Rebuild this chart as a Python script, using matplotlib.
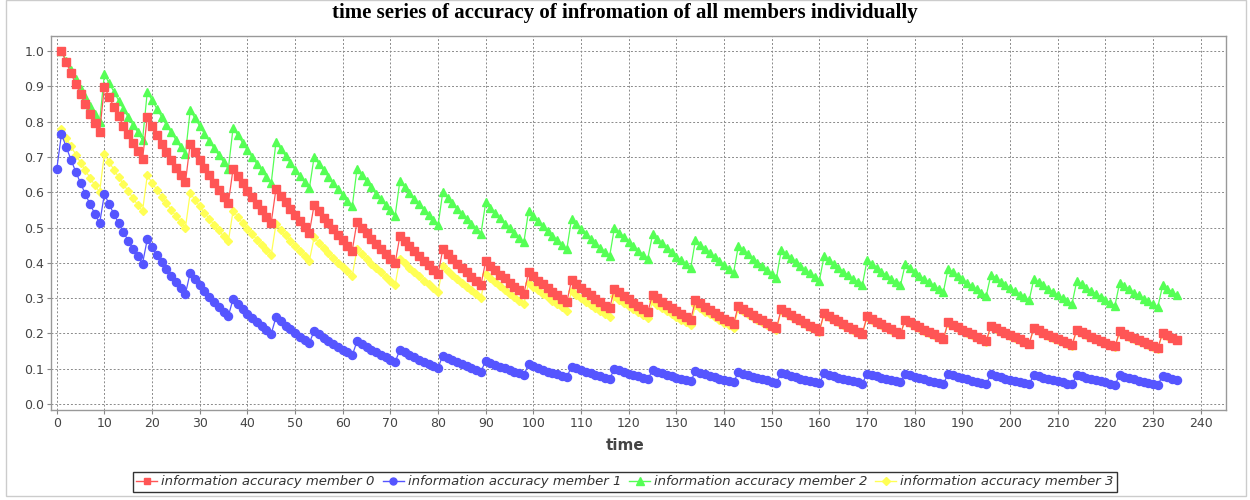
import matplotlib
matplotlib.use("Agg")
import matplotlib.pyplot as plt
from matplotlib.lines import Line2D
from matplotlib.patches import Rectangle

# accuracy per time step, grouped by the decay segment between two updates
member0 = [
    [1.000, 0.968, 0.937, 0.907, 0.878, 0.850, 0.823, 0.796, 0.771],
    [0.899, 0.870, 0.842, 0.815, 0.789, 0.764, 0.740, 0.716, 0.693],
    [0.814, 0.788, 0.763, 0.738, 0.715, 0.692, 0.670, 0.648, 0.628],
    [0.738, 0.714, 0.692, 0.669, 0.648, 0.627, 0.607, 0.587, 0.569],
    [0.667, 0.646, 0.625, 0.605, 0.586, 0.567, 0.549, 0.531, 0.514],
    [0.610, 0.590, 0.572, 0.553, 0.536, 0.519, 0.502, 0.486],
    [0.564, 0.546, 0.528, 0.512, 0.495, 0.479, 0.464, 0.449, 0.435],
    [0.517, 0.500, 0.484, 0.469, 0.454, 0.439, 0.425, 0.412, 0.399],
    [0.477, 0.462, 0.447, 0.433, 0.419, 0.405, 0.393, 0.380, 0.368],
    [0.439, 0.425, 0.411, 0.398, 0.385, 0.373, 0.361, 0.349, 0.338],
    [0.405, 0.392, 0.379, 0.367, 0.356, 0.344, 0.333, 0.322, 0.312],
    [0.374, 0.362, 0.350, 0.339, 0.328, 0.318, 0.308, 0.298, 0.288],
    [0.351, 0.340, 0.329, 0.318, 0.308, 0.298, 0.289, 0.279, 0.271],
    [0.327, 0.317, 0.306, 0.297, 0.287, 0.278, 0.269, 0.260],
    [0.310, 0.300, 0.290, 0.281, 0.272, 0.264, 0.255, 0.247, 0.239],
    [0.294, 0.285, 0.275, 0.267, 0.258, 0.250, 0.242, 0.234, 0.227],
    [0.279, 0.270, 0.261, 0.253, 0.245, 0.237, 0.230, 0.222, 0.215],
    [0.270, 0.261, 0.253, 0.245, 0.237, 0.230, 0.222, 0.215, 0.208],
    [0.258, 0.250, 0.242, 0.234, 0.227, 0.219, 0.212, 0.205, 0.199],
    [0.249, 0.241, 0.233, 0.226, 0.219, 0.212, 0.205, 0.198],
    [0.239, 0.231, 0.224, 0.217, 0.210, 0.203, 0.197, 0.190, 0.184],
    [0.232, 0.225, 0.217, 0.210, 0.204, 0.197, 0.191, 0.185, 0.179],
    [0.222, 0.215, 0.208, 0.201, 0.195, 0.189, 0.183, 0.177, 0.171],
    [0.216, 0.209, 0.202, 0.196, 0.190, 0.184, 0.178, 0.172, 0.167],
    [0.211, 0.204, 0.198, 0.191, 0.185, 0.179, 0.174, 0.168, 0.163],
    [0.206, 0.199, 0.193, 0.187, 0.181, 0.175, 0.170, 0.164, 0.159],
    [0.201, 0.195, 0.188, 0.182],
]

member1 = [
    [0.665],
    [0.765, 0.728, 0.692, 0.658, 0.626, 0.595, 0.566, 0.539, 0.512],
    [0.595, 0.566, 0.538, 0.512, 0.487, 0.463, 0.440, 0.419, 0.398],
    [0.467, 0.444, 0.422, 0.402, 0.382, 0.363, 0.346, 0.329, 0.312],
    [0.372, 0.354, 0.336, 0.320, 0.304, 0.289, 0.275, 0.262, 0.249],
    [0.298, 0.283, 0.269, 0.256, 0.244, 0.232, 0.221, 0.210, 0.199],
    [0.246, 0.234, 0.222, 0.212, 0.201, 0.191, 0.182, 0.173],
    [0.207, 0.197, 0.187, 0.178, 0.169, 0.161, 0.153, 0.146, 0.138],
    [0.178, 0.169, 0.161, 0.153, 0.146, 0.138, 0.132, 0.125, 0.119],
    [0.154, 0.146, 0.139, 0.132, 0.126, 0.120, 0.114, 0.108, 0.103],
    [0.137, 0.130, 0.124, 0.118, 0.112, 0.107, 0.101, 0.096, 0.092],
    [0.123, 0.117, 0.111, 0.106, 0.101, 0.096, 0.091, 0.087, 0.082],
    [0.113, 0.107, 0.102, 0.097, 0.092, 0.088, 0.084, 0.080, 0.076],
    [0.106, 0.101, 0.096, 0.091, 0.087, 0.082, 0.078, 0.075, 0.071],
    [0.100, 0.095, 0.090, 0.086, 0.082, 0.078, 0.074, 0.070],
    [0.096, 0.091, 0.087, 0.083, 0.079, 0.075, 0.071, 0.068, 0.064],
    [0.093, 0.088, 0.084, 0.080, 0.076, 0.072, 0.069, 0.065, 0.062],
    [0.090, 0.086, 0.081, 0.077, 0.074, 0.070, 0.067, 0.063, 0.060],
    [0.088, 0.084, 0.080, 0.076, 0.072, 0.068, 0.065, 0.062, 0.059],
    [0.087, 0.083, 0.079, 0.075, 0.071, 0.068, 0.064, 0.061, 0.058],
    [0.086, 0.082, 0.078, 0.074, 0.070, 0.067, 0.064, 0.061],
    [0.085, 0.081, 0.077, 0.073, 0.070, 0.066, 0.063, 0.060, 0.057],
    [0.085, 0.081, 0.077, 0.073, 0.070, 0.066, 0.063, 0.060, 0.057],
    [0.084, 0.080, 0.076, 0.072, 0.069, 0.065, 0.062, 0.059, 0.056],
    [0.083, 0.079, 0.075, 0.071, 0.068, 0.065, 0.061, 0.058, 0.056],
    [0.082, 0.078, 0.074, 0.071, 0.067, 0.064, 0.061, 0.058, 0.055],
    [0.081, 0.077, 0.073, 0.070, 0.066, 0.063, 0.060, 0.057, 0.054],
    [0.080, 0.076, 0.072, 0.069],
]

member2 = [
    [1.000, 0.973, 0.946, 0.920, 0.894, 0.870, 0.846, 0.823, 0.800],
    [0.935, 0.909, 0.885, 0.860, 0.836, 0.813, 0.791, 0.770, 0.748],
    [0.885, 0.861, 0.837, 0.814, 0.791, 0.770, 0.749, 0.728, 0.708],
    [0.833, 0.810, 0.788, 0.766, 0.745, 0.725, 0.705, 0.686, 0.666],
    [0.783, 0.761, 0.741, 0.720, 0.700, 0.681, 0.662, 0.644, 0.626],
    [0.743, 0.723, 0.703, 0.684, 0.664, 0.646, 0.629, 0.611],
    [0.700, 0.681, 0.662, 0.644, 0.626, 0.609, 0.592, 0.576, 0.560],
    [0.667, 0.649, 0.631, 0.614, 0.596, 0.580, 0.564, 0.549, 0.534],
    [0.633, 0.616, 0.599, 0.582, 0.566, 0.551, 0.536, 0.521, 0.506],
    [0.602, 0.585, 0.569, 0.554, 0.538, 0.524, 0.509, 0.495, 0.482],
    [0.572, 0.556, 0.541, 0.526, 0.511, 0.498, 0.484, 0.471, 0.458],
    [0.548, 0.533, 0.518, 0.504, 0.490, 0.477, 0.464, 0.451, 0.438],
    [0.524, 0.510, 0.496, 0.482, 0.468, 0.456, 0.443, 0.431, 0.419],
    [0.500, 0.486, 0.473, 0.460, 0.447, 0.435, 0.423, 0.412],
    [0.481, 0.468, 0.455, 0.443, 0.430, 0.418, 0.407, 0.396, 0.385],
    [0.465, 0.452, 0.440, 0.428, 0.416, 0.405, 0.393, 0.383, 0.372],
    [0.448, 0.436, 0.424, 0.412, 0.401, 0.390, 0.379, 0.369, 0.358],
    [0.437, 0.425, 0.413, 0.402, 0.391, 0.380, 0.370, 0.360, 0.350],
    [0.420, 0.408, 0.397, 0.386, 0.375, 0.365, 0.355, 0.346, 0.336],
    [0.408, 0.397, 0.386, 0.375, 0.365, 0.355, 0.345, 0.336],
    [0.396, 0.385, 0.375, 0.364, 0.354, 0.345, 0.335, 0.326, 0.317],
    [0.384, 0.373, 0.363, 0.353, 0.343, 0.334, 0.325, 0.316, 0.307],
    [0.367, 0.357, 0.347, 0.338, 0.328, 0.319, 0.310, 0.302, 0.294],
    [0.355, 0.345, 0.336, 0.327, 0.317, 0.309, 0.300, 0.292, 0.284],
    [0.349, 0.339, 0.330, 0.321, 0.312, 0.304, 0.295, 0.287, 0.279],
    [0.344, 0.335, 0.325, 0.316, 0.308, 0.299, 0.291, 0.283, 0.275],
    [0.336, 0.327, 0.318, 0.309],
]

member3 = [
    [0.779, 0.754, 0.730, 0.707, 0.684, 0.662, 0.641, 0.620, 0.601],
    [0.709, 0.686, 0.664, 0.643, 0.623, 0.603, 0.584, 0.564, 0.547],
    [0.648, 0.627, 0.607, 0.588, 0.569, 0.551, 0.533, 0.516, 0.500],
    [0.598, 0.579, 0.560, 0.542, 0.525, 0.508, 0.492, 0.476, 0.461],
    [0.548, 0.530, 0.513, 0.497, 0.481, 0.466, 0.451, 0.436, 0.423],
    [0.510, 0.494, 0.478, 0.463, 0.448, 0.434, 0.420, 0.406],
    [0.472, 0.457, 0.442, 0.428, 0.414, 0.401, 0.388, 0.376, 0.364],
    [0.439, 0.425, 0.411, 0.398, 0.385, 0.373, 0.361, 0.349, 0.338],
    [0.412, 0.399, 0.386, 0.374, 0.362, 0.350, 0.339, 0.328, 0.318],
    [0.391, 0.378, 0.366, 0.355, 0.343, 0.332, 0.322, 0.311, 0.301],
    [0.368, 0.356, 0.345, 0.334, 0.323, 0.313, 0.303, 0.293, 0.284],
    [0.344, 0.333, 0.322, 0.312, 0.302, 0.292, 0.283, 0.274, 0.265],
    [0.320, 0.310, 0.300, 0.290, 0.281, 0.272, 0.263, 0.255, 0.247],
    [0.306, 0.296, 0.287, 0.278, 0.269, 0.260, 0.252, 0.244],
    [0.291, 0.282, 0.273, 0.264, 0.255, 0.247, 0.239, 0.232, 0.224],
    [0.280, 0.271, 0.262, 0.254, 0.246, 0.238, 0.230, 0.223, 0.216],
    [0.272, 0.263, 0.255, 0.247, 0.239, 0.231, 0.224, 0.217, 0.210],
    [0.266, 0.257, 0.249, 0.241, 0.234, 0.226, 0.219, 0.212, 0.205],
    [0.256, 0.248, 0.240, 0.232, 0.225, 0.218, 0.211, 0.204, 0.197],
    [0.247, 0.239, 0.231, 0.224, 0.217, 0.210, 0.203, 0.197],
    [0.237, 0.229, 0.222, 0.215, 0.208, 0.201, 0.195, 0.189, 0.183],
    [0.230, 0.223, 0.216, 0.209, 0.202, 0.196, 0.189, 0.183, 0.177],
    [0.220, 0.213, 0.206, 0.200, 0.193, 0.187, 0.181, 0.175, 0.170],
    [0.214, 0.207, 0.201, 0.194, 0.188, 0.182, 0.176, 0.170, 0.165],
    [0.209, 0.202, 0.196, 0.190, 0.184, 0.178, 0.172, 0.166, 0.161],
    [0.204, 0.197, 0.191, 0.185, 0.179, 0.173, 0.168, 0.162, 0.157],
    [0.199, 0.193, 0.186, 0.180],
]

first_step = [1, 0, 1, 1]
labels = ["information accuracy member 0", "information accuracy member 1",
          "information accuracy member 2", "information accuracy member 3"]
colors = ["#ff5555", "#5555ff", "#55ff55", "#ffff55"]
markers = ["s", "o", "^", "D"]
msizes = [5.4, 5.8, 6.2, 4.4]
legend_sizes = [4.6, 5.0, 5.4, 3.8]


def flatten(segments):
    return [v for seg in segments for v in seg]


W, H = 1250, 500
fig = plt.figure(figsize=(W / 100, H / 100), dpi=100)
fig.patch.set_facecolor("white")

# plot area in pixel units
left, right, top, bottom = 51, 1226, 36, 410
ax = fig.add_axes([left / W, 1 - bottom / H, (right - left) / W, (bottom - top) / H])

series = [member0, member1, member2, member3]
handles = []
# series 0 ends up on top, the last one underneath
for i in range(4):
    vals = flatten(series[i])
    steps = list(range(first_step[i], first_step[i] + len(vals)))
    ax.plot(steps, vals, color=colors[i], lw=0.9, marker=markers[i], ms=msizes[i],
            mec=colors[i], mew=1.0, zorder=10 - i)
    handles.append(Line2D([], [], color=colors[i], lw=1.0, marker=markers[i],
                          ms=legend_sizes[i], mec=colors[i], mew=1.0))

ax.set_xlim(-1.2, 245.3)
ax.set_ylim(-0.017, 1.043)
ax.set_xticks(range(0, 241, 10))
ax.set_yticks([i / 10 for i in range(11)])
ax.set_yticklabels([f"{i / 10:.1f}" for i in range(11)])
ax.tick_params(axis="both", direction="out", length=3, width=0.8, color="#888888",
               labelsize=9, labelcolor="#444444", pad=2)
ax.grid(True, color="#8a8a8a", linestyle=(0, (2, 2)), lw=0.7)
ax.set_axisbelow(True)
for sp in ax.spines.values():
    sp.set_color("#999999")
    sp.set_linewidth(1.0)

fig.text(0.5, 1 - 13 / H, "time series of accuracy of infromation of all members individually",
         ha="center", va="center", family="Liberation Serif", weight="bold", size=15)
fig.text(0.5, 1 - 446 / H, "time", ha="center", va="center", weight="bold",
         size=11, color="#444444")

leg = fig.legend(handles, labels, loc="center", bbox_to_anchor=(0.5, 1 - 482 / H),
                 ncol=4, frameon=True, fancybox=False, edgecolor="black",
                 prop={"style": "italic", "size": 9.5}, handlelength=1.6,
                 handletextpad=0.3, columnspacing=0.6, borderpad=0.25, borderaxespad=0)
leg.get_frame().set_linewidth(1.0)
for t in leg.get_texts():
    t.set_color("#333333")

# outer frame around the whole chart
fig.patches.append(Rectangle((6 / W, 4 / H), (1246 - 6) / W, (500 - 4) / H,
                             transform=fig.transFigure, fill=False,
                             edgecolor="#cccccc", lw=1.0))

fig.savefig("out.png", dpi=100)
